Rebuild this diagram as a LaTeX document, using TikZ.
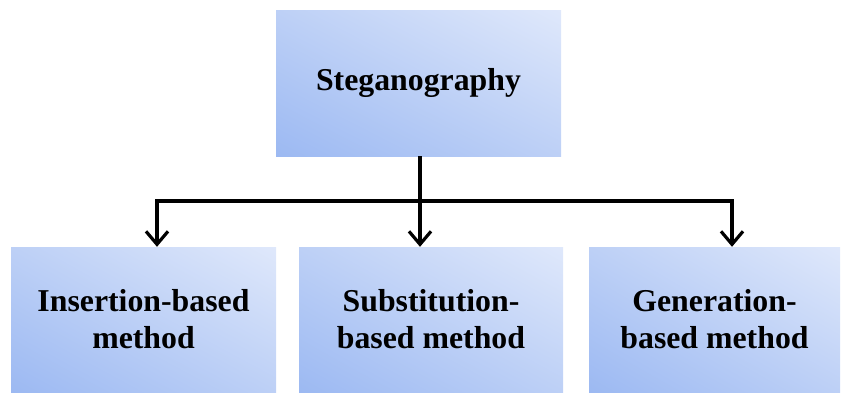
\documentclass[tikz,border=0pt]{standalone}
\usepackage{fontspec}
\setmainfont{Liberation Serif}
\usetikzlibrary{arrows.meta,shadings}
\definecolor{cLL}{HTML}{9CB9F2}
\definecolor{cUR}{HTML}{DFE8FB}
\definecolor{cMID}{HTML}{BDD0F6}
\tikzset{
  gbox/.style={shading=bilinear interpolation, lower left=cLL, upper right=cUR,
    upper left=cMID, lower right=cMID, inner sep=0pt, align=center,
    font=\fontsize{31.8}{37}\selectfont\bfseries},
  conn/.style={line width=3.2pt, black},
  tip/.style={-{Straight Barb[length=13pt,width=22pt,line width=3.2pt]}}
}
\begin{document}
\begin{tikzpicture}[x=1pt,y=-1pt]
\useasboundingbox (0,0) rectangle (842,392);
\node[gbox, minimum width=285pt, minimum height=146pt] (top) at (418.5,83) {Steganography};
\node[gbox, minimum width=265pt, minimum height=145pt] (b1) at (143.5,319.5) {Insertion-based\\method};
\node[gbox, minimum width=264pt, minimum height=145pt] (b2) at (431,319.5) {Substitution-\\based method};
\node[gbox, minimum width=251pt, minimum height=145pt] (b3) at (714.5,319.5) {Generation-\\based method};
\coordinate (c1) at (157,201);
\coordinate (c3) at (732,201);
\coordinate (c2) at (420,201);
\draw[conn, {Straight Barb[length=13pt,width=22pt,line width=3.2pt]}-{Straight Barb[length=13pt,width=22pt,line width=3.2pt]}]
  (c1 |- b1.north) -- (c1) -- (c3) -- (c3 |- b3.north);
\draw[conn, tip] (c2 |- top.south) -- (c2 |- b2.north);
\end{tikzpicture}
\end{document}
